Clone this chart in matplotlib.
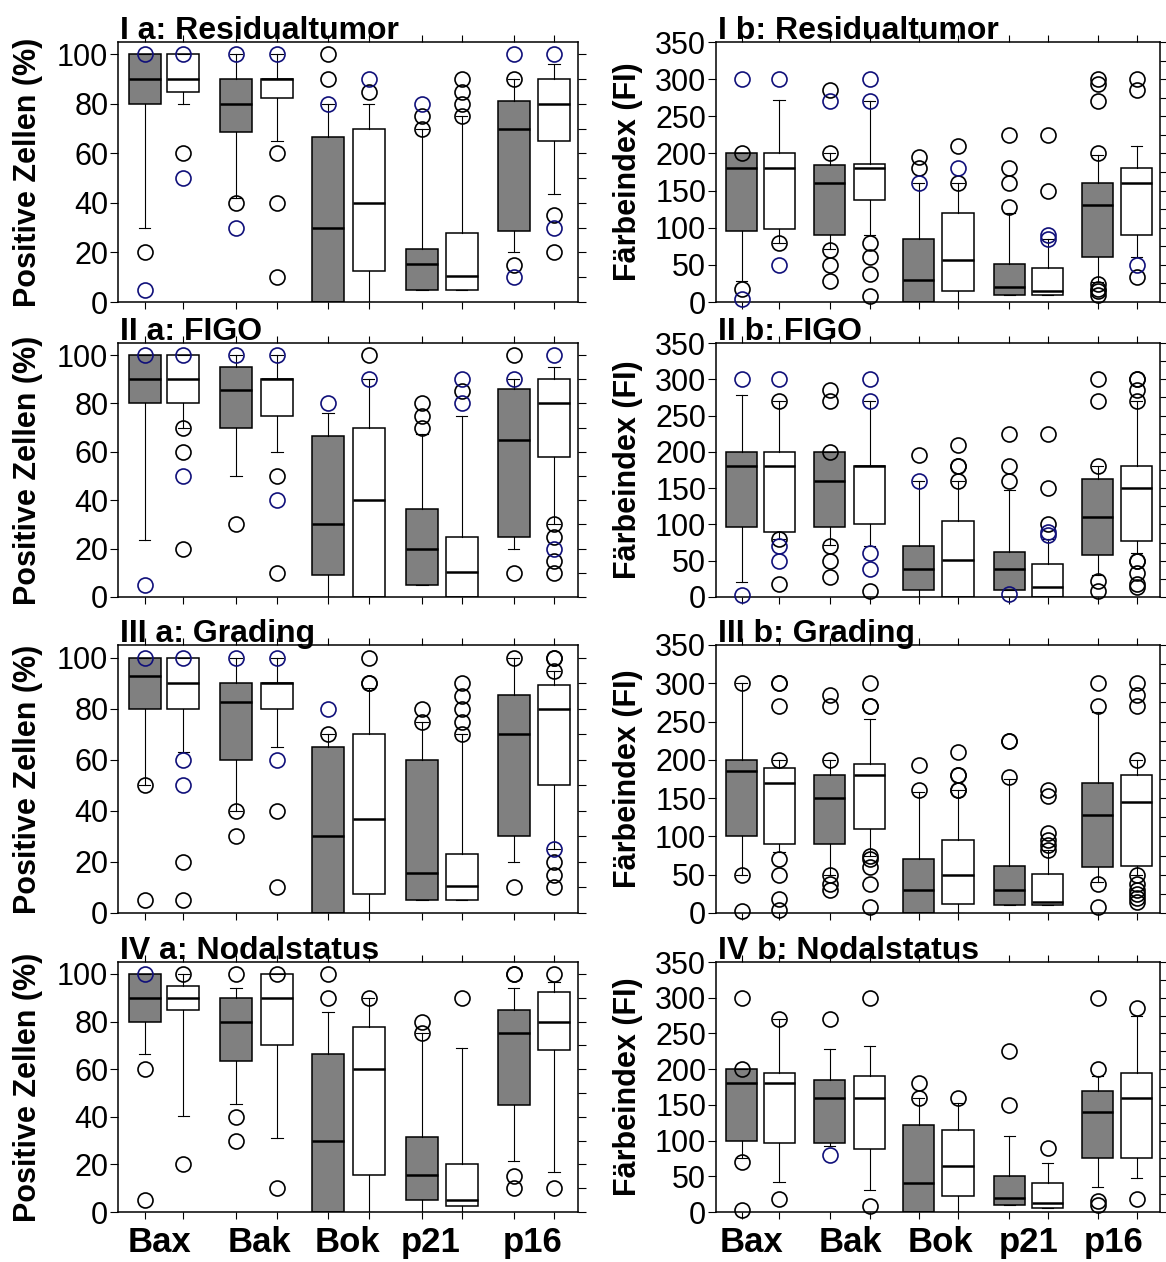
import matplotlib.pyplot as plt
from matplotlib.transforms import offset_copy

plt.rcParams['font.family'] = ['Liberation Sans', 'DejaVu Sans']

markers_ = ['Bax', 'Bak', 'Bok', 'p21', 'p16']

# per box: (lower whisker, q1, median, q3, upper whisker); grey/white pairs per marker
res_pct_box = [
    (30, 80, 90, 100, 100), (80, 85, 90, 100, 100),
    (42, 68.5, 80, 90, 100), (65, 82.5, 90, 90, 100),
    (0, 0, 30, 66.5, 80), (0, 12.5, 40, 70, 80),
    (5, 5, 15.5, 21.5, 70), (5, 5, 10.5, 28, 75),
    (20, 28.5, 70, 81, 90), (43.5, 65, 80, 90, 96),
]
res_pct_out = [[20], [60], [40], [60, 40, 10], [100, 90], [85], [75, 70],
               [90, 85, 80, 75], [90, 15], [35, 20]]
res_pct_out_navy = [[100, 5], [100, 50], [100, 30], [100], [80], [90], [80],
                    [], [100, 10], [100, 30]]

res_fi_box = [
    (28, 95, 180, 200, 200), (80, 98, 180, 200, 272),
    (72, 90, 160, 185, 200), (90, 137, 181, 186, 270),
    (0, 0, 30, 85, 160), (0, 15, 56, 120, 160),
    (10, 10, 20, 51, 120), (10, 10, 15, 46, 85),
    (27, 60, 130, 160, 198), (60, 90, 160, 180, 210),
]
res_fi_out = [[200, 18], [80], [285, 200, 70, 50, 28], [80, 60, 38, 8],
              [195, 180], [210, 160], [225, 180, 160, 128], [225, 150],
              [300, 293, 270, 200, 24, 18, 15, 9], [300, 285, 33]]
res_fi_out_navy = [[300, 4], [300, 50], [270], [300, 270], [160], [180], [],
                   [90, 85], [], [50]]

figo_pct_box = [
    (23.5, 80, 90, 100, 100), (70, 80, 90, 100, 100),
    (50, 70, 85.5, 95, 100), (60, 75, 90, 90, 100),
    (0, 9, 30, 66.5, 76), (0, 0, 40, 70, 90),
    (5, 5, 20, 36.5, 67.5), (0, 0, 10.5, 25, 75),
    (20, 25, 65, 86, 90), (30, 58, 80, 90, 95),
]
figo_pct_out = [[], [70, 60, 20], [30], [50, 10], [], [100], [80, 75, 70],
                [85], [100, 10], [30, 25, 15, 10]]
figo_pct_out_navy = [[100, 5], [100, 50], [100], [100, 40], [80], [90], [],
                     [90, 80], [90], [100, 20]]

figo_fi_box = [
    (20, 97, 180, 200, 278), (80, 90, 180, 200, 270),
    (72, 97, 160, 200, 200), (70, 100, 180, 180, 270),
    (0, 9, 38, 70, 160), (0, 0, 51, 105, 160),
    (9, 9, 38, 62, 148), (0, 0, 14, 46, 80),
    (30, 58, 110, 163, 180), (60, 77, 150, 180, 270),
]
figo_fi_out = [[], [270, 80, 18], [285, 270, 200, 70, 50, 28], [8], [195],
               [210, 180, 180, 160], [225, 180, 160], [225, 150, 100],
               [300, 270, 180, 22, 8], [300, 300, 285, 270, 50, 50, 33, 18, 14]]
figo_fi_out_navy = [[300, 3], [300, 70, 50], [], [300, 270, 60, 38], [160],
                    [], [4], [90, 85], [], []]

grad_pct_box = [
    (50, 80, 93, 100, 100), (63, 80, 90, 100, 100),
    (40, 60, 82.5, 90, 100), (65, 80, 90, 90, 100),
    (0, 0, 30, 65, 70), (0, 7.5, 37, 70, 88),
    (5, 5, 15.5, 60, 75), (5, 5, 10.5, 23, 70),
    (20, 30, 70, 85.5, 100), (25, 50, 80, 89.5, 95),
]
grad_pct_out = [[50, 5], [20, 5], [40, 30], [40, 10], [70], [100, 90, 90],
                [80, 75], [90, 85, 80, 75, 70], [100, 10],
                [100, 100, 95, 20, 15, 10]]
grad_pct_out_navy = [[100], [100, 60, 50], [100], [100, 60], [80], [], [], [],
                     [], [25]]

grad_fi_box = [
    (50, 100, 185, 200, 300), (80, 90, 170, 190, 200),
    (50, 90, 150, 180, 200), (75, 110, 180, 195, 253),
    (0, 0, 30, 70, 158), (0, 12, 50, 95, 160),
    (10, 10, 30, 61, 175), (10, 10, 15, 51, 82),
    (40, 60, 128, 170, 263), (50, 62, 145, 180, 200),
]
grad_fi_out = [[300, 50, 3], [300, 300, 270, 200, 70, 50, 18, 4],
               [285, 270, 200, 50, 38, 30], [300, 270, 270, 75, 70, 60, 38, 8],
               [193, 160], [210, 180, 180, 160, 160], [225, 225, 178],
               [160, 153, 105, 95, 89, 82], [300, 270, 38, 8],
               [300, 285, 270, 200, 50, 38, 30, 25, 20, 14]]
grad_fi_out_navy = [[], [], [], [], [], [], [], [], [], []]

nod_pct_box = [
    (66.5, 80, 90, 100, 100), (40.5, 85, 90, 95, 100),
    (45.5, 63.5, 80, 90, 94), (31, 70, 90, 100, 100),
    (0, 0, 30, 66.5, 84), (0, 15.5, 60, 77.5, 90),
    (0, 5, 15.5, 31.5, 75), (0, 2.5, 5, 20, 69),
    (21.5, 45, 75, 85, 94), (17, 68, 80, 92.5, 96.5),
]
nod_pct_out = [[60, 5], [100, 20], [100, 40, 30], [100, 10], [100, 90], [90],
               [80, 75], [90], [100, 100, 15, 10], [100, 10]]
nod_pct_out_navy = [[100], [], [], [], [], [], [], [], [], []]

nod_fi_box = [
    (75, 100, 180, 200, 200), (42, 97, 180, 195, 270),
    (92, 97, 160, 185, 228), (31, 88, 160, 190, 232),
    (0, 0, 40, 122, 160), (0, 23, 64, 115, 152),
    (10, 10, 20, 51, 107), (5, 5, 12, 40, 68),
    (35, 75, 140, 170, 190), (48, 75, 160, 195, 275),
]
nod_fi_out = [[300, 200, 70, 3], [270, 18], [270], [300, 8], [180, 160], [160],
              [225, 150], [90], [300, 200, 15, 10], [285, 18]]
nod_fi_out_navy = [[], [], [80], [], [], [], [], [], [], []]

# layout
positions = [0.58, 1.42, 2.56, 3.46, 4.57, 5.45, 6.61, 7.47, 8.6, 9.48]
fills = ['#808080', 'white'] * 5
W, H = 1166, 1262
rows_px = [(42, 302), (343, 597), (645, 913), (962, 1212)]
cols_px = [(118, 578), (716, 1160)]
ylabel_x = [28, 628]
cat_x = [[160, 259, 347, 431, 533], [751, 850, 940, 1029, 1114]]

panels = [
    ('I a: Residualtumor', res_pct_box, res_pct_out, res_pct_out_navy),
    ('I b: Residualtumor', res_fi_box, res_fi_out, res_fi_out_navy),
    ('II a: FIGO', figo_pct_box, figo_pct_out, figo_pct_out_navy),
    ('II b: FIGO', figo_fi_box, figo_fi_out, figo_fi_out_navy),
    ('III a: Grading', grad_pct_box, grad_pct_out, grad_pct_out_navy),
    ('III b: Grading', grad_fi_box, grad_fi_out, grad_fi_out_navy),
    ('IV a: Nodalstatus', nod_pct_box, nod_pct_out, nod_pct_out_navy),
    ('IV b: Nodalstatus', nod_fi_box, nod_fi_out, nod_fi_out_navy),
]

fig = plt.figure(figsize=(W / 100, H / 100), dpi=100)

for k, (title, boxes, out, out_navy) in enumerate(panels):
    r, c = divmod(k, 2)
    top, bot = rows_px[r]
    x0, x1 = cols_px[c]
    ax = fig.add_axes([x0 / W, 1 - bot / H, (x1 - x0) / W, (bot - top) / H])

    stats = [dict(whislo=b[0], q1=b[1], med=b[2], q3=b[3], whishi=b[4], fliers=[])
             for b in boxes]
    bp = ax.bxp(stats, positions=positions, widths=0.7, capwidths=0.25,
                patch_artist=True, showfliers=False, manage_ticks=False,
                boxprops=dict(linewidth=1.1, edgecolor='black'),
                medianprops=dict(color='black', linewidth=1.8),
                whiskerprops=dict(color='black', linewidth=0.8),
                capprops=dict(color='black', linewidth=0.8))
    for patch, fc in zip(bp['boxes'], fills):
        patch.set_facecolor(fc)

    for i in range(len(positions)):
        for vals, col in ((out[i], 'black'), (out_navy[i], '#10107a')):
            if vals:
                ax.plot([positions[i]] * len(vals), vals, 'o', ms=10.8,
                        mfc='none', mec=col, mew=1.2, clip_on=False, zorder=4)

    ax.set_xlim(0, 10)
    ax.set_xticks(positions)
    ax.tick_params(axis='x', which='both', bottom=True, top=True,
                   direction='out', length=5, width=0.8, labelbottom=False)
    if c == 0:
        ax.set_ylim(0, 105)
        ax.set_yticks(range(0, 101, 20))
        ax.set_yticks(range(10, 100, 20), minor=True)
        ylabel = 'Positive Zellen (%)'
    else:
        ax.set_ylim(0, 350)
        ax.set_yticks(range(0, 351, 50))
        ax.set_yticks(range(25, 350, 50), minor=True)
        ylabel = 'Färbeindex (FI)'
    ax.tick_params(axis='y', which='major', left=True, right=True,
                   direction='out', length=6, width=0.8, labelsize=22, pad=1)
    ax.tick_params(axis='y', which='minor', left=False, right=True,
                   direction='out', length=6, width=0.8)
    for s in ax.spines.values():
        s.set_linewidth(1.1)

    fig.text(ylabel_x[c] / W, 1 - (top + bot) / 2 / H, ylabel, rotation=90,
             ha='center', va='center', fontsize=22, fontweight='bold')
    ax.text(0, 1, title, ha='left', va='baseline', fontsize=23, fontweight='bold',
            transform=offset_copy(ax.transAxes, fig=fig, x=2, y=3, units='dots'))

    if r == 3:
        for name, xp in zip(markers_, cat_x[c]):
            fig.text(xp / W, 1 - 1252 / H, name, ha='center', va='baseline',
                     fontsize=25, fontweight='bold')

fig.savefig('out.png', dpi=100)
